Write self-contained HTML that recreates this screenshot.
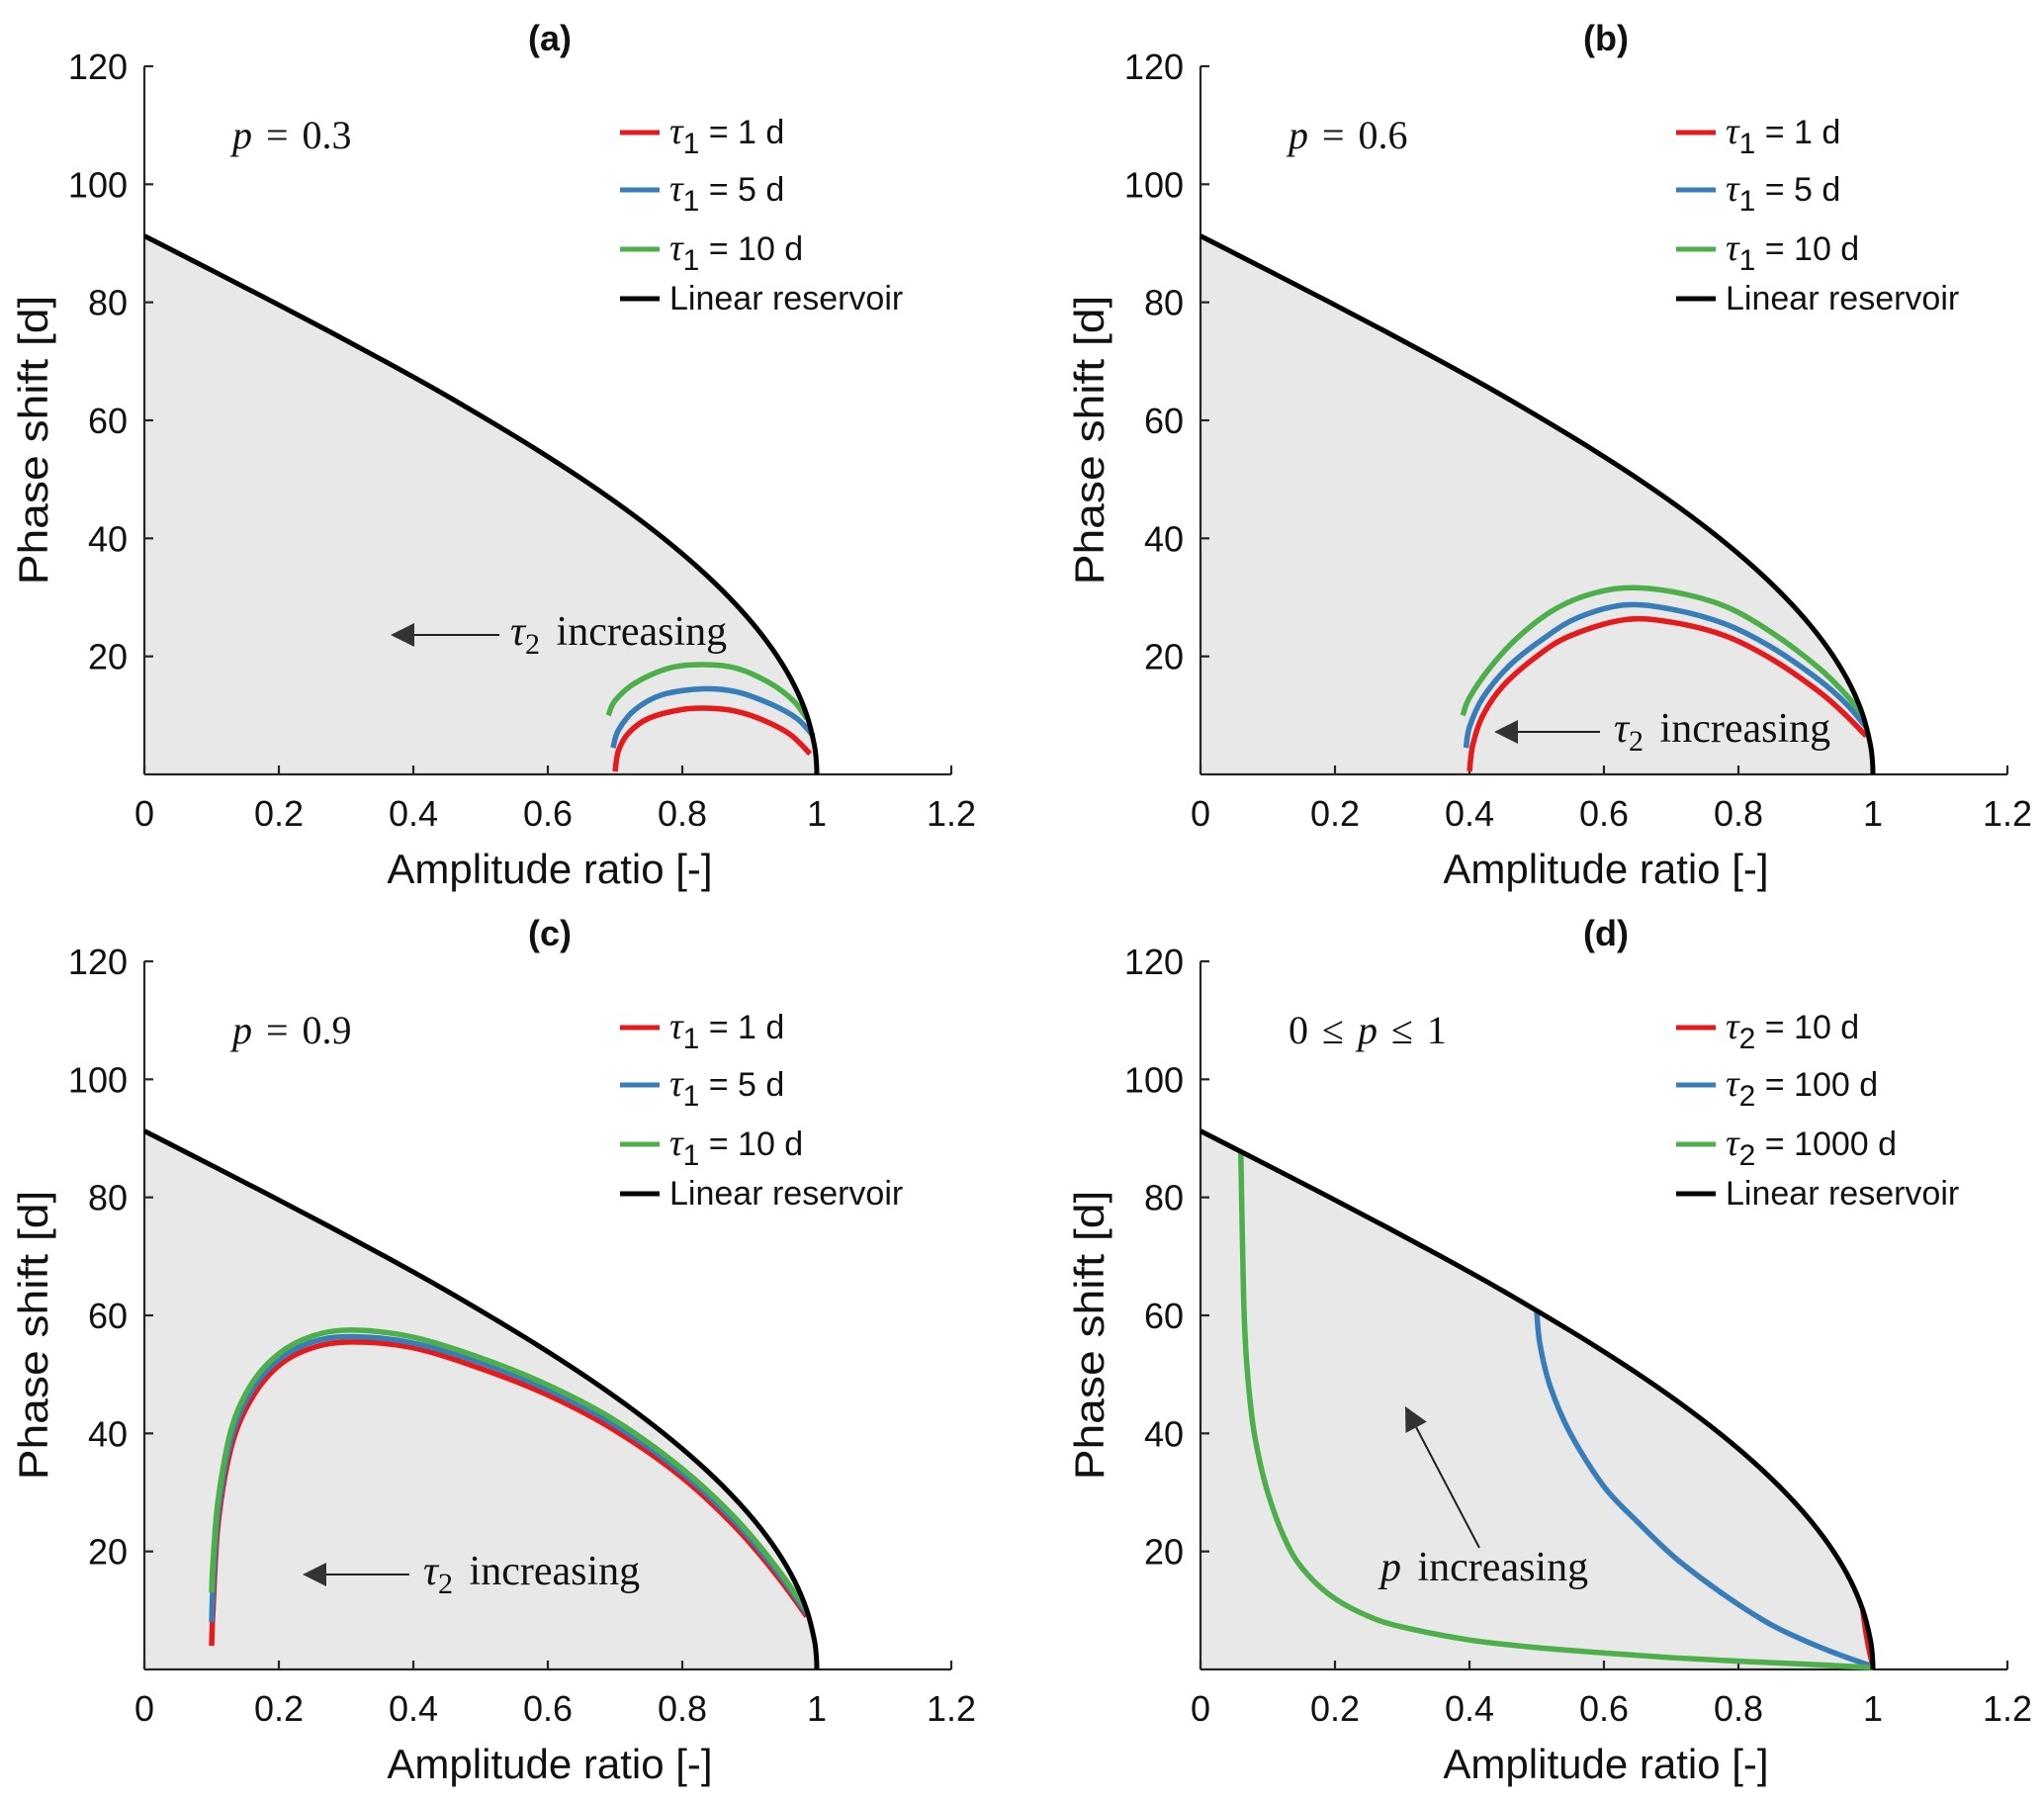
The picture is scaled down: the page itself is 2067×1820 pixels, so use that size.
<!DOCTYPE html>
<html><head><meta charset="utf-8"><style>
html,body{margin:0;padding:0;background:#fff;}
svg{display:block;}
text{font-family:"Liberation Sans",sans-serif;fill:#111;}
.serif{font-family:"Liberation Serif","DejaVu Serif",serif;}
</style></head><body>
<svg id="fig" width="2067" height="1820" viewBox="0 0 2067 1820" xmlns="http://www.w3.org/2000/svg"></svg>
<script>
// ---- data ----
const xTicks = [0, 0.2, 0.4, 0.6, 0.8, 1, 1.2];
const xTickLabels = ["0", "0.2", "0.4", "0.6", "0.8", "1", "1.2"];
const yTicks = [20, 40, 60, 80, 100, 120];
const yTickLabels = ["20", "40", "60", "80", "100", "120"];
const panelTitles = ["(a)", "(b)", "(c)", "(d)"];
// linear reservoir curve: amplitude ratio and phase shift
const linA = [1.0, 0.9994, 0.9963, 0.9852, 0.9669, 0.9413, 0.9088, 0.8696, 0.8239, 0.7722, 0.7147, 0.6518, 0.5840, 0.5118, 0.4368, 0.3577, 0.2761, 0.1925, 0.1073, 0.0215, 0];
const linP = [0, 2, 5, 10, 15, 20, 25, 30, 35, 40, 45, 50, 55, 60, 65, 70, 75, 80, 85, 90, 91.25];
// panel a (p = 0.3)
const aRedA = [0.700, 0.705, 0.72, 0.75, 0.80, 0.84, 0.88, 0.92, 0.96, 0.99];
const aRedP = [0.5, 4, 7, 9.5, 11, 11.2, 10.7, 9.2, 6.8, 3.5];
const aBlueA = [0.697, 0.705, 0.73, 0.77, 0.83, 0.88, 0.93, 0.97, 0.995];
const aBlueP = [4.5, 7.5, 11, 13.5, 14.5, 14, 12, 9.5, 6.5];
const aGreenA = [0.69, 0.70, 0.73, 0.78, 0.83, 0.88, 0.93, 0.965, 0.985];
const aGreenP = [10, 12.5, 15.5, 18, 18.6, 18, 15.5, 12.5, 9.5];
// panel b (p = 0.6)
const bRedA = [0.40, 0.405, 0.42, 0.45, 0.50, 0.55, 0.63, 0.70, 0.78, 0.85, 0.92, 0.96, 0.99];
const bRedP = [0.5, 5, 10, 15, 20, 23.5, 26.2, 25.8, 23.5, 19.5, 14, 10, 6.5];
const bBlueA = [0.395, 0.40, 0.42, 0.46, 0.51, 0.56, 0.63, 0.70, 0.78, 0.85, 0.92, 0.96, 0.99];
const bBlueP = [4.5, 8, 13, 18.5, 23, 26.5, 28.7, 28, 25.5, 21.5, 16, 12, 8];
const bGreenA = [0.39, 0.40, 0.43, 0.47, 0.52, 0.57, 0.63, 0.70, 0.78, 0.85, 0.92, 0.96, 0.985];
const bGreenP = [10, 13, 18, 23, 27.5, 30.2, 31.6, 31, 28.5, 24, 18, 13.5, 10];
// panel c (p = 0.9)
const cRedA = [0.10, 0.102, 0.11, 0.13, 0.16, 0.20, 0.25, 0.31, 0.40, 0.50, 0.60, 0.70, 0.80, 0.88, 0.94, 0.985];
const cRedP = [4, 10, 25, 38, 46, 51.5, 54.5, 55.5, 54.5, 51, 46.5, 40.5, 32.5, 24, 16, 9];
const cBlueA = [0.10, 0.102, 0.11, 0.13, 0.16, 0.20, 0.25, 0.31, 0.40, 0.50, 0.60, 0.70, 0.80, 0.88, 0.94, 0.985];
const cBlueP = [8, 14, 27, 39.5, 47.3, 52.5, 55.5, 56.4, 55.3, 52, 47.4, 41.4, 33.3, 24.8, 16.7, 9.5];
const cGreenA = [0.10, 0.102, 0.11, 0.13, 0.16, 0.20, 0.25, 0.31, 0.40, 0.50, 0.60, 0.70, 0.80, 0.88, 0.94, 0.985];
const cGreenP = [13, 18, 29, 41, 48.5, 53.5, 56.5, 57.5, 56.3, 52.8, 48.2, 42.2, 34, 25.5, 17.3, 10];
// panel d (0 <= p <= 1)
const dRedA = [0.985, 0.99, 0.995, 1.0];
const dRedP = [10, 6, 3, 0.5];
const dBlueA = [0.50, 0.505, 0.52, 0.55, 0.60, 0.65, 0.70, 0.75, 0.80, 0.85, 0.90, 0.95, 1.0];
const dBlueP = [60.5, 55, 48, 40, 31, 25, 19.5, 15, 11, 7.5, 4.8, 2.5, 0.5];
const dGreenA = [0.06, 0.062, 0.065, 0.07, 0.08, 0.10, 0.13, 0.16, 0.20, 0.25, 0.30, 0.40, 0.50, 0.60, 0.70, 0.80, 0.90, 1.0];
const dGreenP = [87.5, 75, 60, 50, 40, 30, 21, 16, 12, 9, 7.2, 5, 3.7, 2.8, 2, 1.4, 0.9, 0.3];

const RED = "#e41a1c", BLUE = "#377eb8", GREEN = "#4daf4a";
const NS = "http://www.w3.org/2000/svg";
const fig = document.getElementById('fig');
function mk(tag, attrs, parent, txt) {
  const e = document.createElementNS(NS, tag);
  for (const k in attrs) e.setAttribute(k, attrs[k]);
  if (txt !== undefined) e.textContent = txt;
  (parent || fig).appendChild(e);
  return e;
}
// smooth path through points (Catmull-Rom)
function smooth(P) {
  let d = 'M' + P[0][0] + ',' + P[0][1];
  for (let i = 0; i < P.length - 1; i++) {
    const p0 = P[i - 1] || P[i], p1 = P[i], p2 = P[i + 1], p3 = P[i + 2] || p2;
    const c1x = p1[0] + (p2[0] - p0[0]) / 6, c1y = p1[1] + (p2[1] - p0[1]) / 6;
    const c2x = p2[0] - (p3[0] - p1[0]) / 6, c2y = p2[1] - (p3[1] - p1[1]) / 6;
    d += ' C' + c1x + ',' + c1y + ' ' + c2x + ',' + c2y + ' ' + p2[0] + ',' + p2[1];
  }
  return d;
}
const offsets = [[0, 0], [1068, 0], [0, 905], [1068, 905]];
const panels = [
  {series: [[aRedA, aRedP, RED], [aBlueA, aBlueP, BLUE], [aGreenA, aGreenP, GREEN]], label: "p = 0.3", sub: "1", vals: ["1 d", "5 d", "10 d"]},
  {series: [[bRedA, bRedP, RED], [bBlueA, bBlueP, BLUE], [bGreenA, bGreenP, GREEN]], label: "p = 0.6", sub: "1", vals: ["1 d", "5 d", "10 d"]},
  {series: [[cRedA, cRedP, RED], [cBlueA, cBlueP, BLUE], [cGreenA, cGreenP, GREEN]], label: "p = 0.9", sub: "1", vals: ["1 d", "5 d", "10 d"]},
  {series: [[dRedA, dRedP, RED], [dBlueA, dBlueP, BLUE], [dGreenA, dGreenP, GREEN]], label: "0 ≤ p ≤ 1", sub: "2", vals: ["10 d", "100 d", "1000 d"]}
];
panels.forEach((pn, i) => {
  const ox = offsets[i][0], oy = offsets[i][1];
  const X0 = 146 + ox, Y0 = 783 + oy, W = 816, H = 716;
  const sx = v => X0 + v / 1.2 * W;
  const sy = v => Y0 - v / 120 * H;
  const g = mk('g', {});
  
  
  const linPts = linA.map((a, j) => [sx(a), sy(linP[j])]);
  const linPath = smooth(linPts);
  const area = mk('path', {d: linPath + ' L' + sx(0) + ',' + sy(0) + ' Z', fill: '#e8e8e8', stroke: 'none'}, g);
  
  
  // axes
  const ax = mk('g', {stroke: '#262626', 'stroke-width': 2.2, fill: 'none'}, g);
  
  
  mk('line', {x1: X0, y1: Y0, x2: X0 + W, y2: Y0}, ax);
  mk('line', {x1: X0, y1: Y0, x2: X0, y2: Y0 - H}, ax);
  xTicks.forEach((t, k) => {
    mk('line', {x1: sx(t), y1: Y0, x2: sx(t), y2: Y0 - 9}, ax);
    const tl = mk('text', {x: sx(t), y: Y0 + 52, 'font-size': 36, 'text-anchor': 'middle'}, g, xTickLabels[k]);
    
    
  });
  yTicks.forEach((t, k) => {
    mk('line', {x1: X0, y1: sy(t), x2: X0 + 9, y2: sy(t)}, ax);
    const tl = mk('text', {x: X0 - 17, y: sy(t) + 13, 'font-size': 36, 'text-anchor': 'end'}, g, yTickLabels[k]);
    
    
  });
  const xl = mk('text', {x: X0 + 410, y: Y0 + 110, 'font-size': 42, 'text-anchor': 'middle'}, g, 'Amplitude ratio [-]');
  
  
  const yl = mk('text', {x: 0, y: 0, 'font-size': 42, 'text-anchor': 'middle', transform: 'translate(' + (X0 - 98) + ',' + (Y0 - 338) + ') rotate(-90) scale(1.1,1)'}, g, 'Phase shift [d]');
  
  
  const tt = mk('text', {x: X0 + 410, y: Y0 - H - 16, 'font-size': 36, 'font-weight': 'bold', 'text-anchor': 'middle'}, g, panelTitles[i]);
  
  
  // series
  pn.series.forEach((s, k) => {
    const pts = s[0].map((a, j) => [sx(a), sy(s[1][j])]);
    const pl = mk('path', {d: smooth(pts), fill: 'none', stroke: s[2], 'stroke-width': 5.5, 'stroke-linejoin': 'round'}, g);
    
    
  });
  const bl = mk('path', {d: linPath, fill: 'none', stroke: '#000', 'stroke-width': 5, 'stroke-linejoin': 'round'}, g);
  
  
  // p label
  const pl = mk('text', {x: X0 + 89, y: Y0 - H + 83, 'font-size': 40, 'class': 'serif', 'word-spacing': 4}, g);
  
  
  if (i < 3) {
    mk('tspan', {'font-style': 'italic'}, pl, 'p');
    mk('tspan', {}, pl, ' = ' + pn.label.split('= ')[1]);
  } else {
    mk('tspan', {}, pl, '0 ≤ ');
    mk('tspan', {'font-style': 'italic'}, pl, 'p');
    mk('tspan', {}, pl, ' ≤ 1');
  }
  // legend
  const lg = mk('g', {}, g);
  
  
  const rows = [67, 125, 185, 235];
  const cols = [RED, BLUE, GREEN, '#000'];
  rows.forEach((r, k) => {
    const yy = Y0 - H + r;
    const ln = mk('line', {x1: X0 + 481, y1: yy, x2: X0 + 521, y2: yy, stroke: cols[k], 'stroke-width': 5}, lg);
    
    
    const t = mk('text', {x: X0 + 531, y: yy + 11, 'font-size': 34}, lg);
    
    
    if (k < 3) {
      mk('tspan', {'font-style': 'italic', 'class': 'serif', 'font-size': 38}, t, 'τ');
      mk('tspan', {'font-size': 30, dy: 10}, t, pn.sub);
      mk('tspan', {dy: -10}, t, ' = ' + pn.vals[k]);
    } else {
      t.textContent = 'Linear reservoir';
    }
  });
});
// annotations
function arrow(x1, y1, x2, y2, name) {
  const g = mk('g', {});
  
  
  const ang = Math.atan2(y2 - y1, x2 - x1);
  const L = 24, Wd = 12;
  const bx = x2 - L * Math.cos(ang), by = y2 - L * Math.sin(ang);
  mk('line', {x1: x1, y1: y1, x2: bx, y2: by, stroke: '#222', 'stroke-width': 2}, g);
  const px = -Math.sin(ang) * Wd, py = Math.cos(ang) * Wd;
  mk('polygon', {points: x2 + ',' + y2 + ' ' + (bx + px) + ',' + (by + py) + ' ' + (bx - px) + ',' + (by - py), fill: '#333'}, g);
}
function tauText(x, y, name) {
  const t = mk('text', {x: x, y: y, 'font-size': 42, 'class': 'serif', 'word-spacing': 6}, fig);
  
  
  mk('tspan', {'font-style': 'italic'}, t, 'τ');
  mk('tspan', {'font-size': 30, dy: 9}, t, '2');
  mk('tspan', {dy: -9}, t, ' increasing');
}
arrow(505, 642, 395, 642, 'tau2-arrow-a');
tauText(516, 652, 'tau2-annotation-a');
arrow(1618, 740, 1511, 740, 'tau2-arrow-b');
tauText(1632, 750, 'tau2-annotation-b');
arrow(414, 1592, 306, 1592, 'tau2-arrow-c');
tauText(428, 1602, 'tau2-annotation-c');
arrow(1496, 1565, 1421, 1422, 'p-arrow-d');
const pt = mk('text', {x: 1396, y: 1598, 'font-size': 42, 'class': 'serif', 'word-spacing': 6});


mk('tspan', {'font-style': 'italic'}, pt, 'p');
mk('tspan', {}, pt, ' increasing');
</script>
</body></html>
